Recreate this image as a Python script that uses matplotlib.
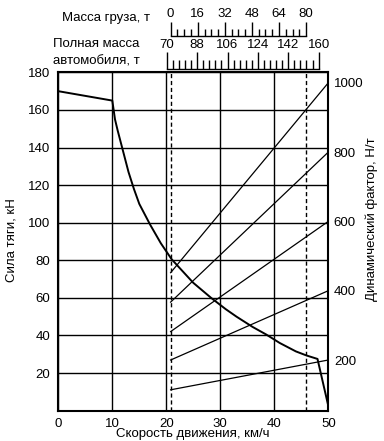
import matplotlib
matplotlib.use("Agg")
import matplotlib.pyplot as plt
import numpy as np

plt.rcParams['font.family'] = ['Liberation Sans', 'DejaVu Sans']
plt.rcParams['font.size'] = 9.5

# tractive force vs speed
speed_kmh = [0, 10, 10.5, 11, 12, 13, 14, 15, 17, 19, 21, 25, 28.3, 31, 33, 36, 38.5, 41, 44, 46, 48, 50]
traction_kn = [170, 165, 155, 149, 138, 127, 118, 110, 99, 89, 80.5, 68, 60, 54, 50, 44.5, 40.5, 36, 31.5, 29.3, 27.5, 2.5]

# dynamic factor lines (N/t), from the lower speed limit to 50 km/h
dyn_start = [452, 367, 282, 200, 114]
dyn_end = [1000, 800, 600, 400, 200]
speed_limits = [20.8, 45.9]

cargo_ticks = [0, 16, 32, 48, 64, 80]
total_ticks = [70, 88, 106, 124, 142, 160]

W, H = 384, 441
AX_L, AX_R = 58.3 / W, 328.3 / W
AX_B, AX_T = (H - 410.6) / H, (H - 72.4) / H
AX_W = AX_R - AX_L

fig = plt.figure(figsize=(W / 100, H / 100), dpi=100)
ax = fig.add_axes([AX_L, AX_B, AX_W, AX_T - AX_B])
ax.set_xlim(0, 50)
ax.set_ylim(0, 180)
ax.set_xticks([0, 10, 20, 30, 40, 50])
ax.set_yticks([20, 40, 60, 80, 100, 120, 140, 160, 180])
ax.tick_params(length=0)
ax.tick_params(axis='y', pad=6)
ax.tick_params(axis='x', pad=5)
ax.grid(True, color='black', linewidth=1.0)
for s in ax.spines.values():
    s.set_linewidth(1.5)

for x in speed_limits:
    ax.axvline(x, color='black', linewidth=1.0, linestyle=(0, (3, 2)))

ax.plot(speed_kmh, traction_kn, color='black', linewidth=1.4)

ax2 = ax.twinx()
ax2.set_ylim(54, 1030)
ax2.set_yticks([200, 400, 600, 800, 1000])
ax2.tick_params(length=0, pad=4)
for s in ax2.spines.values():
    s.set_visible(False)
for d0, d1 in zip(dyn_start, dyn_end):
    ax2.plot([speed_limits[0], 50], [d0, d1], color='black', linewidth=0.9)


def add_scale(x_from, x_to, y_px, ticks, n_minor, major_len, minor_len):
    left = AX_L + AX_W * x_from / 50
    width = AX_W * (x_to - x_from) / 50
    sc = fig.add_axes([left, (H - y_px) / H, width, 0.0001])
    sc.patch.set_visible(False)
    sc.set_xlim(ticks[0], ticks[-1])
    sc.set_yticks([])
    for s in ['left', 'right', 'bottom']:
        sc.spines[s].set_visible(False)
    sc.spines['top'].set_linewidth(1.0)
    sc.xaxis.set_ticks_position('top')
    sc.set_xticks(ticks)
    step = (ticks[1] - ticks[0]) / (n_minor + 1)
    sc.set_xticks(np.arange(ticks[0], ticks[-1] + step / 2, step), minor=True)
    sc.tick_params(which='major', direction='out', length=major_len, width=1.0, pad=1.5)
    sc.tick_params(which='minor', direction='out', length=minor_len, width=1.0)
    return sc


add_scale(speed_limits[0], speed_limits[1], 36, cargo_ticks, 3, 10, 5)
add_scale(20.1, 48.2, 69.5, total_ticks, 4, 12, 6.5)

fig.text(150 / W, (H - 18) / H, 'Масса груза, т', ha='right', va='center')
fig.text(53 / W, (H - 44) / H, 'Полная масса', ha='left', va='center')
fig.text(53 / W, (H - 62) / H, 'автомобиля, т', ha='left', va='center')

fig.text(12 / W, (H - 240) / H, 'Сила тяги, кН', rotation=90, ha='center', va='center')
fig.text(372 / W, (H - 219) / H, 'Динамический фактор, Н/т', rotation=90, ha='center', va='center')
fig.text(193 / W, (H - 434) / H, 'Скорость движения, км/ч', ha='center', va='center')

fig.savefig('out.png', dpi=100)
